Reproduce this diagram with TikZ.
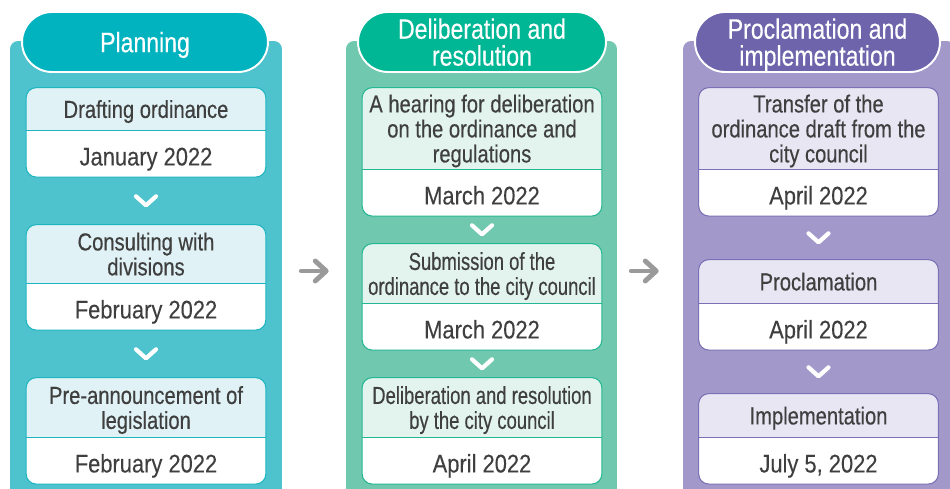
\documentclass[tikz,border=0pt]{standalone}
\usepackage{fontspec}
\setmainfont{Liberation Sans}
\newfontfamily\boxfont{Liberation Sans}[FakeStretch=0.82,FakeBold=0.35]
\newfontfamily\squeezefont{Liberation Sans}[FakeStretch=0.75,FakeBold=0.35]
\newfontfamily\monthfont{Liberation Sans}[FakeStretch=0.86,FakeBold=0.15]
\newfontfamily\phasefont{Liberation Sans}[FakeStretch=0.82,FakeBold=0.3]
\usepackage{xcolor}
\usetikzlibrary{arrows.meta,positioning,calc,fit,backgrounds}
\definecolor{ink}{HTML}{3F3F3F}
\definecolor{arrowgray}{HTML}{9A9A9A}
\definecolor{planbg}{HTML}{4FC3CD}
\definecolor{planhead}{HTML}{00B3BE}
\definecolor{planlight}{HTML}{E0F2F5}
\definecolor{planline}{HTML}{1EB5C0}
\definecolor{delibbg}{HTML}{70C8AF}
\definecolor{delibhead}{HTML}{00B795}
\definecolor{deliblight}{HTML}{E3F4EE}
\definecolor{delibline}{HTML}{25B693}
\definecolor{proclbg}{HTML}{A299CA}
\definecolor{proclhead}{HTML}{6E64AC}
\definecolor{procllight}{HTML}{E9E6F4}
\definecolor{proclline}{HTML}{7A70B5}

\begin{document}
\begin{tikzpicture}[x=0.02cm,y=0.02cm,
    phase/.style={draw=white,line width=1.1pt,fill=#1head,rounded corners=0.6cm,
                  minimum height=1.2cm,inner sep=0pt,align=center,text=white,text depth=0pt,
                  font=\phasefont\fontsize{16}{15.3}\selectfont},
    column/.style={fill=#1bg,rounded corners=0.16cm,minimum height=9.2cm,inner sep=0pt},
    steptitle/.style={minimum width=4.78cm,inner sep=0pt,align=center,text=ink,text depth=0pt,
                      font=\boxfont\fontsize{14}{14.2}\selectfont},
    stepdate/.style={minimum width=4.78cm,minimum height=0.92cm,inner sep=0pt,text=ink,
                     text height=13.4pt,text depth=0pt,
                     font=\monthfont\fontsize{14.5}{15}\selectfont},
    stepframe/.style 2 args={draw=#1line,fill=white,line width=0.6pt,rounded corners=0.2cm,
                     inner sep=0pt,path picture={
                       \fill[#1light,sharp corners] (#2.north west) rectangle (#2.south east);
                       \draw[#1line,line width=0.6pt] (#2.south west) -- (#2.south east);}},
    chevron/.style={draw=white,line width=2.4pt,line cap=round,line join=round},
    flow/.style={draw=arrowgray,line width=2.8pt,line cap=round,
                 -{Straight Barb[length=2.2mm,width=4mm,round]}}]
    \useasboundingbox (0,0) rectangle (950,489);

    % phase headers
    \node[phase=plan,minimum width=4.92cm] (planhd) at (145,447) {Planning};
    \node[phase=delib,minimum width=4.96cm] (delibhd) at (482,447) {Deliberation and\\resolution};
    \node[phase=procl,minimum width=4.9cm] (proclhd) at (817.5,447) {Proclamation and\\implementation};

    % planning
    \node[steptitle,minimum height=0.84cm] (plan1) at (146,380) {Drafting ordinance};
    \node[stepdate,below=0pt of plan1] (plan1d) {January 2022};
    \node[steptitle,minimum height=1.16cm] (plan2) at (146,235) {Consulting with\\divisions};
    \node[stepdate,below=0pt of plan2] (plan2d) {February 2022};
    \node[steptitle,minimum height=1.18cm] (plan3) at (146,81.5) {Pre-announcement of\\legislation};
    \node[stepdate,below=0pt of plan3] (plan3d) {February 2022};

    % deliberation and resolution
    \node[steptitle,minimum height=1.62cm] (delib1) at (482,360.5)
        {A hearing for deliberation\\on the ordinance and\\regulations};
    \node[stepdate,below=0pt of delib1] (delib1d) {March 2022};
    \node[steptitle,minimum height=1.18cm,font=\squeezefont\fontsize{14}{14.2}\selectfont]
        (delib2) at (482,215.5) {Submission of the\\ordinance to the city council};
    \node[stepdate,below=0pt of delib2] (delib2d) {March 2022};
    \node[steptitle,minimum height=1.18cm,font=\squeezefont\fontsize{14}{14.2}\selectfont]
        (delib3) at (482,81.5) {Deliberation and resolution\\by the city council};
    \node[stepdate,below=0pt of delib3] (delib3d) {April 2022};

    % proclamation and implementation
    \node[steptitle,minimum height=1.62cm] (procl1) at (818.5,360.5)
        {Transfer of the\\ordinance draft from the\\city council};
    \node[stepdate,below=0pt of procl1] (procl1d) {April 2022};
    \node[steptitle,minimum height=0.86cm] (procl2) at (818.5,207.5) {Proclamation};
    \node[stepdate,below=0pt of procl2] (procl2d) {April 2022};
    \node[steptitle,minimum height=0.86cm] (procl3) at (818.5,73.5) {Implementation};
    \node[stepdate,below=0pt of procl3] (procl3d) {July 5, 2022};

    \begin{scope}[on background layer]
        \node[column=plan,minimum width=5.44cm] (plan) at (146,218) {};
        \node[column=delib,minimum width=5.42cm] (delib) at (481.5,218) {};
        \node[column=procl,minimum width=5.44cm] (procl) at (819,218) {};
        \node[stepframe={plan}{plan1},fit=(plan1)(plan1d)] (plan1f) {};
        \node[stepframe={plan}{plan2},fit=(plan2)(plan2d)] (plan2f) {};
        \node[stepframe={plan}{plan3},fit=(plan3)(plan3d)] (plan3f) {};
        \node[stepframe={delib}{delib1},fit=(delib1)(delib1d)] (delib1f) {};
        \node[stepframe={delib}{delib2},fit=(delib2)(delib2d)] (delib2f) {};
        \node[stepframe={delib}{delib3},fit=(delib3)(delib3d)] (delib3f) {};
        \node[stepframe={procl}{procl1},fit=(procl1)(procl1d)] (procl1f) {};
        \node[stepframe={procl}{procl2},fit=(procl2)(procl2d)] (procl2f) {};
        \node[stepframe={procl}{procl3},fit=(procl3)(procl3d)] (procl3f) {};
    \end{scope}

    % chevrons between steps
    \draw[chevron] ($(plan1d.south)!0.5!(plan2.north)$) ++(-10,4.5) -- ++(10,-9) -- ++(10,9);
    \draw[chevron] ($(plan2d.south)!0.5!(plan3.north)$) ++(-10,4.5) -- ++(10,-9) -- ++(10,9);
    \draw[chevron] ($(delib1d.south)!0.5!(delib2.north)$) ++(-10,4.5) -- ++(10,-9) -- ++(10,9);
    \draw[chevron] ($(delib2d.south)!0.5!(delib3.north)$) ++(-10,4.5) -- ++(10,-9) -- ++(10,9);
    \draw[chevron] ($(procl1d.south)!0.5!(procl2.north)$) ++(-10,4.5) -- ++(10,-9) -- ++(10,9);
    \draw[chevron] ($(procl2d.south)!0.5!(procl3.north)$) ++(-10,4.5) -- ++(10,-9) -- ++(10,9);

    % flow between phases
    \draw[flow,shorten <=0.38cm,shorten >=0.34cm] (plan.east) -- (delib.west);
    \draw[flow,shorten <=0.28cm,shorten >=0.48cm] (delib.east) -- (procl.west);
\end{tikzpicture}
\end{document}
